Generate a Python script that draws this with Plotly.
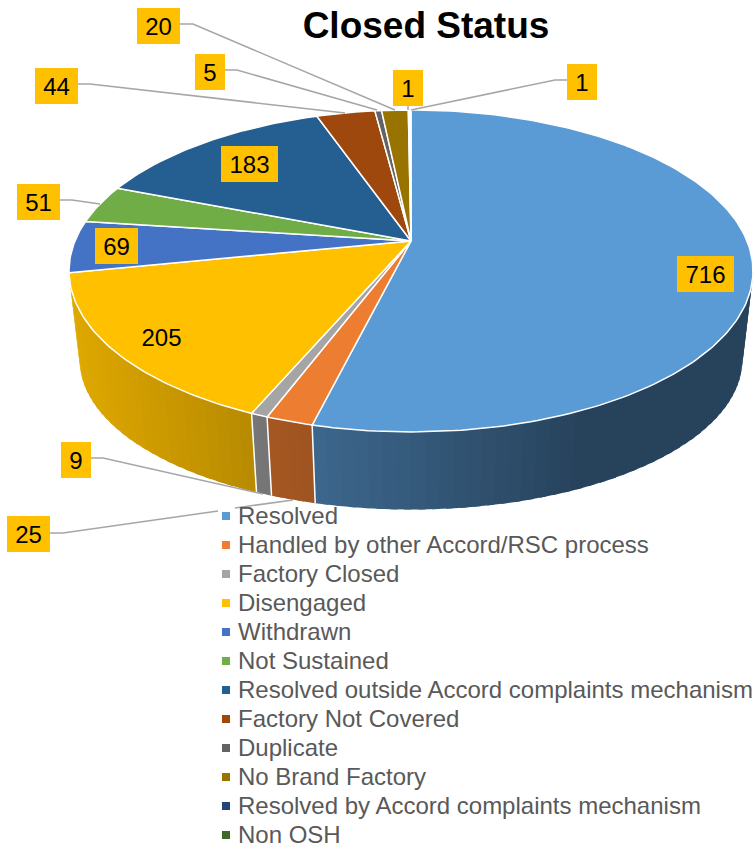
import math
import plotly.graph_objects as go

categories = ["Resolved", "Handled by other Accord/RSC process", "Factory Closed", "Disengaged",
              "Withdrawn", "Not Sustained", "Resolved outside Accord complaints mechanism",
              "Factory Not Covered", "Duplicate", "No Brand Factory",
              "Resolved by Accord complaints mechanism", "Non OSH"]
values = [716, 25, 9, 205, 69, 51, 183, 44, 5, 20, 1, 1]
colors = ["#5B9BD5", "#ED7D31", "#A5A5A5", "#FFC000", "#4472C4", "#70AD47",
          "#255E91", "#9E480E", "#636363", "#997300", "#264478", "#43682B"]

# label boxes: left, right, top, bottom in page pixels
label_boxes = [(677, 734, 256, 292), (7, 50, 516, 552), (61, 91, 442, 478), (133, 190, 319, 355),
               (95, 138, 228, 264), (17, 60, 184, 220), (221, 278, 146, 182), (35, 78, 68, 104),
               (195, 225, 54, 90), (137, 180, 8, 44), (393, 423, 70, 106), (567, 597, 64, 100)]
leaders = [[(50, 533), (63, 533), (218, 511)], [(235, 508), (293, 500)],
           [(91, 458), (103, 458), (263, 494)], [(60, 200), (72, 200), (100, 204)],
           [(78, 84), (90, 84), (345, 113)], [(225, 70), (237, 70), (377, 110)],
           [(180, 24), (193, 24), (395, 110)], [(408, 106), (408, 110)],
           [(567, 80), (555, 80), (411, 110)]]

CX, CY, K, S, T = 411, 241, 0.186, 336, 155.4
BOTTOM_SX, BOTTOM_SY, DEPTH = 0.969, 0.93, 91


def project(angle, bottom=False):
    u, v = math.sin(angle), -math.cos(angle)
    w = 1 - K * v
    if bottom:
        return CX + BOTTOM_SX * S * u / w, CY + DEPTH + BOTTOM_SY * T * v / w
    return CX + S * u / w, CY + T * v / w


def shade(hex_color, x):
    f = max(0.43, 0.94 - 0.00088 * x)
    return "rgb({},{},{})".format(*[round(int(hex_color[i:i + 2], 16) * f) for i in (1, 3, 5)])


total = sum(values)
edges = [0.0]
for val in values:
    edges.append(edges[-1] + val / total * 2 * math.pi)

fig = go.Figure()
STEP = math.radians(2)

# extruded side, drawn first so the top hides everything but the front
for i, col in enumerate(colors):
    a0, a1 = edges[i], edges[i + 1]
    n = max(1, math.ceil((a1 - a0) / STEP))
    for j in range(n):
        s0 = a0 + (a1 - a0) * j / n
        s1 = a0 + (a1 - a0) * (j + 1) / n
        mid = (s0 + s1) / 2
        limit = K - 0.04 if math.sin(mid) > 0 else K
        if -math.cos(mid) < limit:
            continue
        s1x = min(a1, s1 + STEP * 0.5)  # overlap the next strip so no seam shows
        p = [project(s0), project(s1x), project(s1x, True), project(s0, True)]
        xs = [q[0] for q in p] + [p[0][0]]
        ys = [q[1] for q in p] + [p[0][1]]
        c = shade(col, sum(xs) / 5)
        fig.add_trace(go.Scatter(x=xs, y=ys, mode="none", fill="toself", fillcolor=c,
                                 hoverinfo="skip", showlegend=False))

# white seams between side faces
sx, sy = [], []
for e in edges:
    if -math.cos(e) > 0.25:
        a, b = project(e), project(e, True)
        sx += [a[0], b[0], None]
        sy += [a[1], b[1], None]
fig.add_trace(go.Scatter(x=sx, y=sy, mode="lines", line=dict(color="white", width=1.5),
                         hoverinfo="skip", showlegend=False))

# top face
for i, col in enumerate(colors):
    a0, a1 = edges[i], edges[i + 1]
    n = max(2, math.ceil((a1 - a0) / math.radians(1)))
    pts = [project(a0 + (a1 - a0) * j / n) for j in range(n + 1)]
    xs = [CX] + [q[0] for q in pts] + [CX]
    ys = [CY] + [q[1] for q in pts] + [CY]
    fig.add_trace(go.Scatter(x=xs, y=ys, mode="lines", fill="toself", fillcolor=col,
                             line=dict(color="white", width=1.5), name=categories[i],
                             text=f"{categories[i]}: {values[i]}", hoverinfo="text", showlegend=False))

# leader lines
lx, ly = [], []
for path in leaders:
    lx += [q[0] for q in path] + [None]
    ly += [q[1] for q in path] + [None]
fig.add_trace(go.Scatter(x=lx, y=ly, mode="lines", line=dict(color="#A6A6A6", width=1.5),
                         hoverinfo="skip", showlegend=False))

# legend rows
LEG_Y0, LEG_DY = 516, 29
for i, name in enumerate(categories):
    fig.add_trace(go.Scatter(x=[226], y=[LEG_Y0 + i * LEG_DY], mode="markers", name=name,
                             marker=dict(symbol="square", size=8, color=colors[i]),
                             hoverinfo="name", showlegend=False))
fig.add_trace(go.Scatter(x=[238] * len(categories),
                         y=[LEG_Y0 + 1.5 + i * LEG_DY for i in range(len(categories))],
                         mode="text", text=categories, textposition="middle right",
                         textfont=dict(family="Liberation Sans", size=24, color="#595959"),
                         hoverinfo="skip", showlegend=False))

for val, (l, r, t, b) in zip(values, label_boxes):
    fig.add_annotation(x=(l + r) / 2, y=(t + b) / 2, xref="x", yref="y", text=str(val), showarrow=False,
                       width=r - l - 2, height=b - t - 2, bgcolor="#FFC000", borderwidth=1, bordercolor="#FFC000",
                       borderpad=0, align="center", valign="middle",
                       font=dict(family="Liberation Sans", size=24, color="black"))

fig.update_layout(
    width=756, height=850, margin=dict(l=0, r=0, t=0, b=0), showlegend=False,
    paper_bgcolor="white", plot_bgcolor="white",
    title=dict(text="<b>Closed Status</b>", x=426 / 756, y=1 - 25 / 850, xanchor="center", yanchor="middle",
               font=dict(family="Liberation Sans", size=37, color="black")),
    xaxis=dict(range=[0, 756], visible=False, fixedrange=True),
    yaxis=dict(range=[850, 0], visible=False, fixedrange=True),
)
fig.write_html("out.html", config={"displayModeBar": False},
               post_script="document.body.style.margin='0';document.body.style.overflow='hidden';")
